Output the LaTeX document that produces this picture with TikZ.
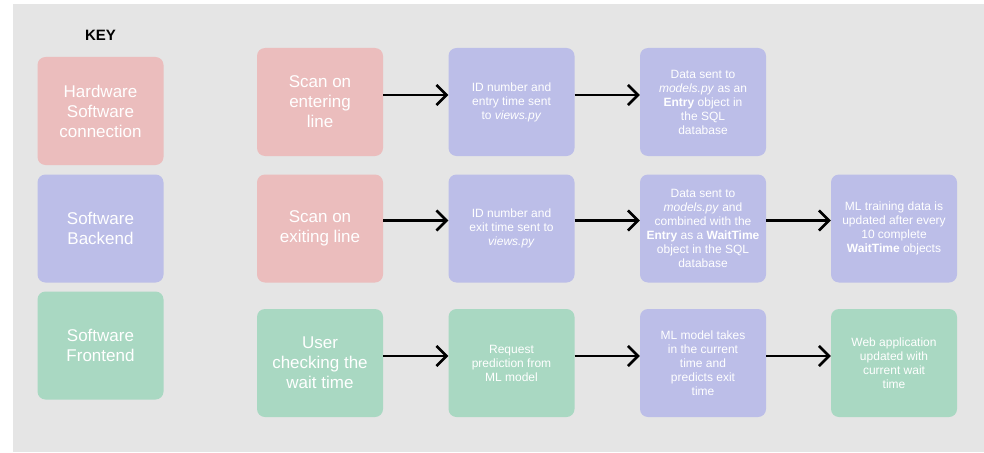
\documentclass[tikz,border=0pt]{standalone}
\usepackage{fontspec}
\setmainfont{Liberation Sans}
\usetikzlibrary{arrows.meta}

\definecolor{bggray}{HTML}{E5E5E5}
\definecolor{hwpink}{HTML}{EBBDBD}
\definecolor{backblue}{HTML}{BCBEE8}
\definecolor{frontgreen}{HTML}{A9D8C2}

\begin{document}
\begin{tikzpicture}[x=1pt, y=-1pt,
        box/.style={rounded corners=8pt, minimum width=126pt, minimum height=108pt, inner sep=2pt, align=center, text=white},
        big/.style={box, font=\fontsize{17}{20}\selectfont},
        small/.style={box, font=\fontsize{12}{14}\selectfont},
        flow/.style={-{Straight Barb[length=10pt, width=20pt]}, line width=2.6pt}]
        \useasboundingbox (0,0) rectangle (984,452);
        \fill[bggray] (13,4) rectangle (984,452);

        % key
        \node[font=\fontsize{15}{18}\selectfont\bfseries] (key) at (100.5,35) {KEY};
        \node[big, fill=hwpink] (keyhw) at (100.5,111) {Hardware\\Software\\connection};
        \node[big, fill=backblue] (keyback) at (100.5,228.5) {Software\\Backend};
        \node[big, fill=frontgreen] (keyfront) at (100.5,345.5) {Software\\Frontend};

        % entering the line
        \node[big, fill=hwpink] (enter) at (320,102) {Scan on\\entering\\line};
        \node[small, fill=backblue] (enterid) at (511.5,102) {ID number and\\entry time sent\\to \textit{views.py}};
        \node[small, fill=backblue] (entrydb) at (703,102) {Data sent to\\\textit{models.py} as an\\\textbf{Entry} object in\\the SQL\\database};

        % exiting the line
        \node[big, fill=hwpink] (exit) at (320,228.5) {Scan on\\exiting line};
        \node[small, fill=backblue] (exitid) at (511.5,228.5) {ID number and\\exit time sent to\\\textit{views.py}};
        \node[small, fill=backblue] (waitdb) at (703,228.5) {Data sent to\\\textit{models.py} and\\combined with the\\\textbf{Entry} as a \textbf{WaitTime}\\object in the SQL\\database};
        \node[small, fill=backblue] (train) at (894,228.5) {ML training data is\\updated after every\\10 complete\\\textbf{WaitTime} objects};

        % checking the wait time
        \node[big, fill=frontgreen] (user) at (320,363) {User\\checking the\\wait time};
        \node[small, fill=frontgreen] (request) at (511.5,363) {Request\\prediction from\\ML model};
        \node[small, fill=backblue] (predict) at (703,363) {ML model takes\\in the current\\time and\\predicts exit\\time};
        \node[small, fill=frontgreen] (webapp) at (894,363) {Web application\\updated with\\current wait\\time};

        \draw[flow] ([yshift=7pt]enter.east) -- ([yshift=7pt]enterid.west);
        \draw[flow] ([yshift=7pt]enterid.east) -- ([yshift=7pt]entrydb.west);
        \draw[flow] ([yshift=8pt]exit.east) -- ([yshift=8pt]exitid.west);
        \draw[flow] ([yshift=8pt]exitid.east) -- ([yshift=8pt]waitdb.west);
        \draw[flow] ([yshift=8pt]waitdb.east) -- ([yshift=8pt]train.west);
        \draw[flow] ([yshift=7pt]user.east) -- ([yshift=7pt]request.west);
        \draw[flow] ([yshift=7pt]request.east) -- ([yshift=7pt]predict.west);
        \draw[flow] ([yshift=7pt]predict.east) -- ([yshift=7pt]webapp.west);
\end{tikzpicture}
\end{document}
